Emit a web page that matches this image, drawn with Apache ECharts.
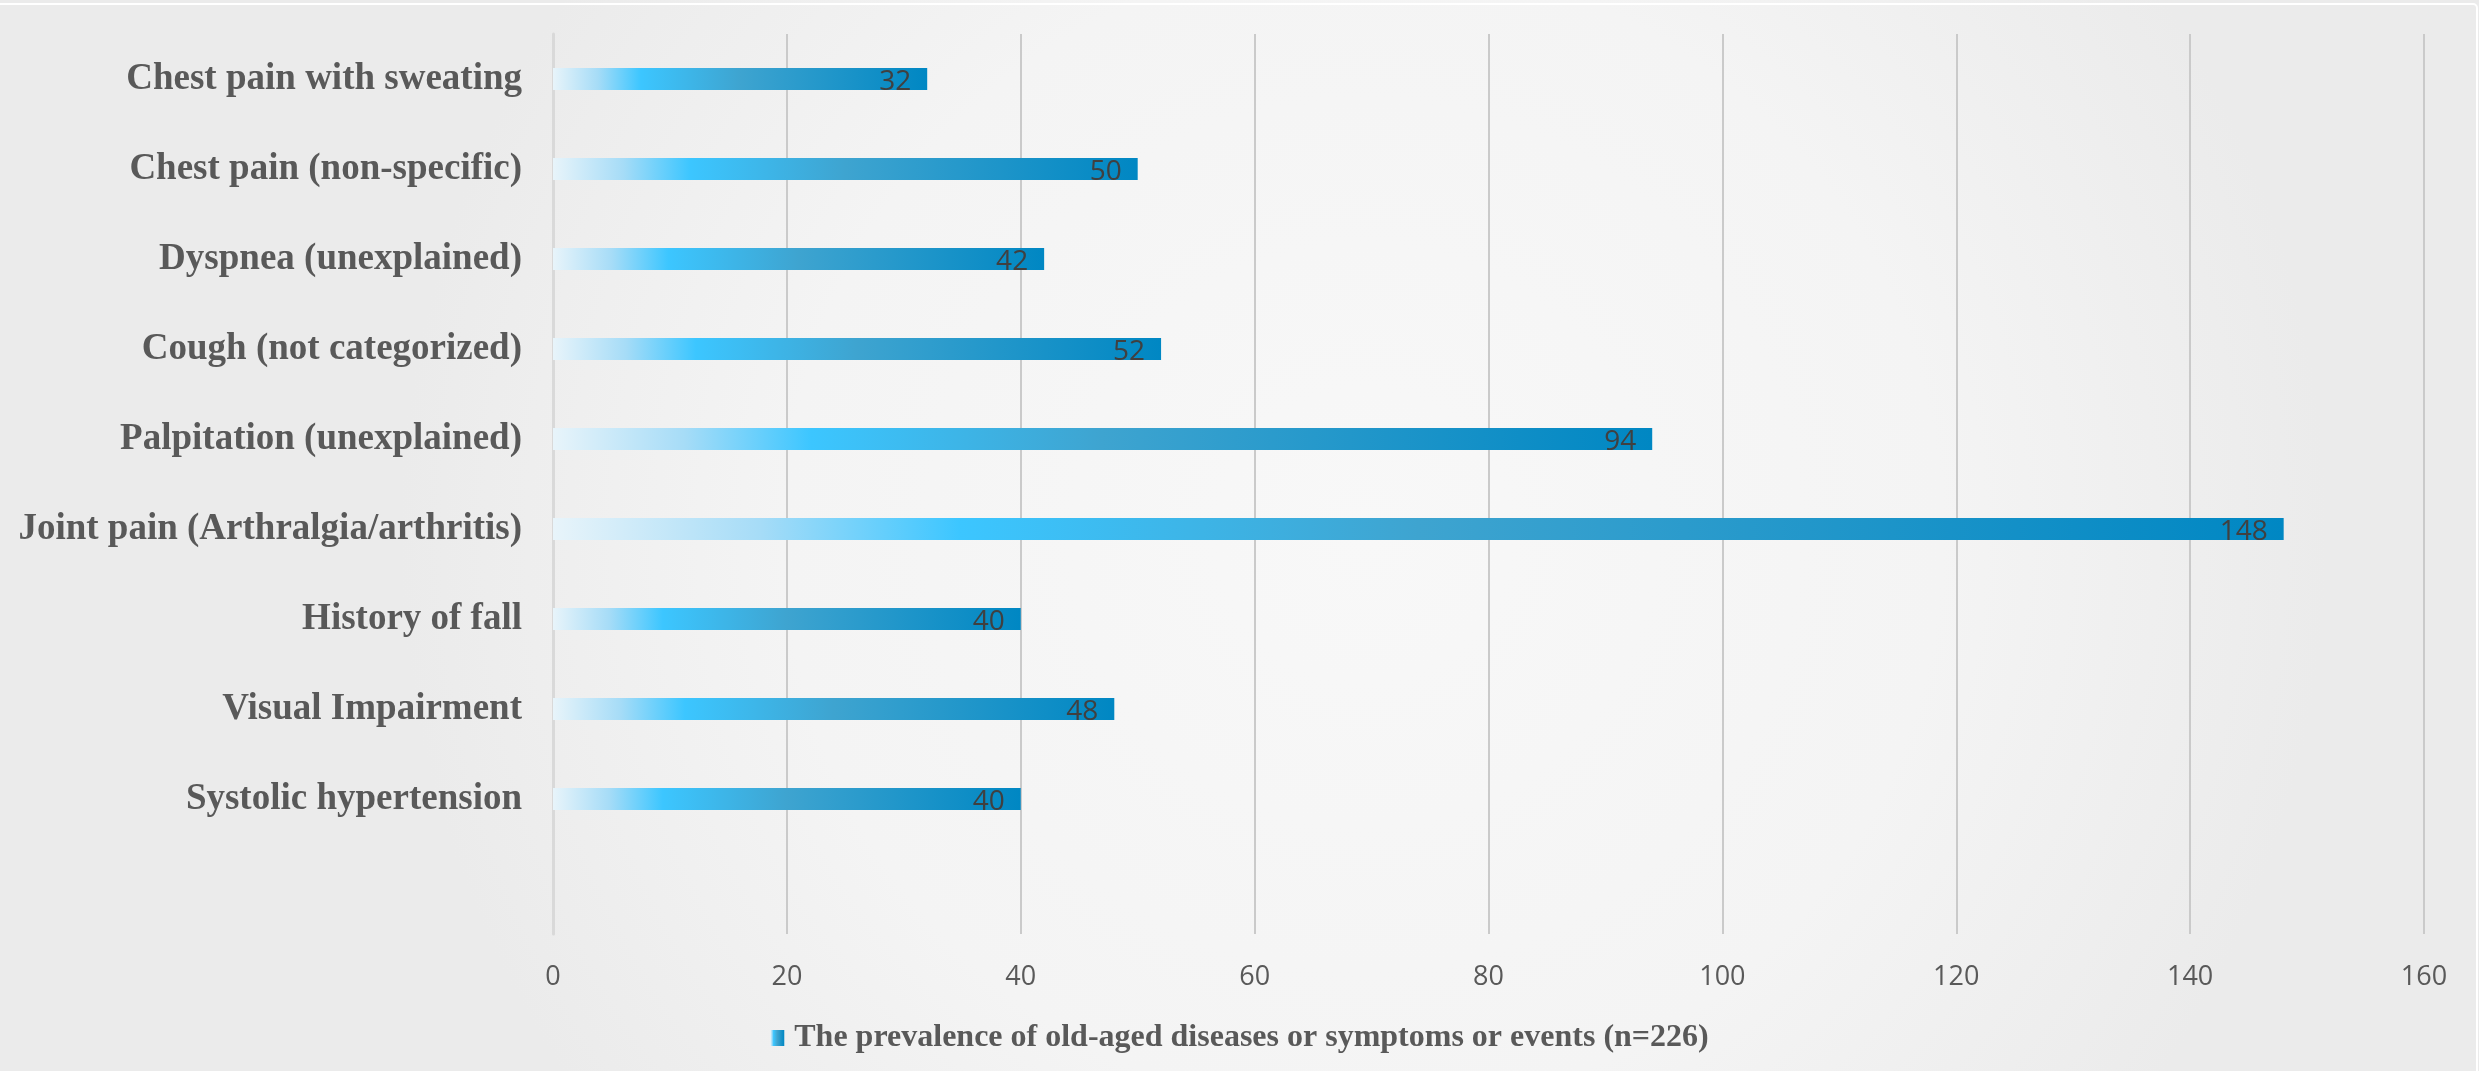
<!DOCTYPE html>
<html>
<head>
<meta charset="utf-8">
<script src="https://cdn.jsdelivr.net/npm/echarts@6/dist/echarts.min.js"></script>
<style>
html,body{margin:0;padding:0;width:2479px;height:1071px;overflow:hidden;background:#f2f2f2;}
#chart{width:2479px;height:1071px;}
</style>
</head>
<body>
<div id="chart"></div>
<script>
// Categories listed bottom-to-top (as drawn on the category axis)
const categories = [
  'Systolic hypertension',
  'Visual Impairment',
  'History of fall',
  'Joint pain (Arthralgia/arthritis)',
  'Palpitation (unexplained)',
  'Cough (not categorized)',
  'Dyspnea (unexplained)',
  'Chest pain (non-specific)',
  'Chest pain with sweating'
];
const values = [40, 48, 40, 148, 94, 52, 42, 50, 32];
const seriesName = 'The prevalence of old-aged diseases or symptoms or events (n=226)';
const xTicks = [0, 20, 40, 60, 80, 100, 120, 140, 160];

// Excel leaves an empty band beneath the last category
const axisCats = [''].concat(categories);
const axisVals = [null].concat(values);

const barGradient = new echarts.graphic.LinearGradient(0, 0, 1, 0, [
  {offset: 0, color: '#e8f4fa'},
  {offset: 0.12, color: '#a6dcf7'},
  {offset: 0.235, color: '#3cc6ff'},
  {offset: 0.5, color: '#3ea4d0'},
  {offset: 1, color: '#0087c3'}
]);

const chart = echarts.init(document.getElementById('chart'), null, {renderer: 'canvas'});
chart.setOption({
  backgroundColor: new echarts.graphic.RadialGradient(0.55, 0.5, 0.9, [
    {offset: 0, color: '#f8f8f8'},
    {offset: 0.6, color: '#f4f4f4'},
    {offset: 1, color: '#ebebeb'}
  ]),
  animation: false,
  graphic: [{
    type: 'rect',
    shape: {x: -10, y: 4, width: 2487, height: 1100, r: 4},
    style: {fill: 'none', stroke: '#ffffff', lineWidth: 2},
    silent: true
  }],
  grid: {left: 553, right: 55, top: 34, bottom: 137, containLabel: false},
  legend: {
    show: true,
    bottom: 12,
    left: 'center',
    itemWidth: 14,
    itemHeight: 16,
    icon: 'rect',
    textStyle: {
      fontFamily: 'Liberation Serif',
      fontWeight: 'bold',
      fontSize: 32,
      color: '#595959',
      padding: [0, 0, 0, 5]
    },
    data: [seriesName]
  },
  xAxis: {
    type: 'value',
    min: xTicks[0],
    max: xTicks[xTicks.length - 1],
    interval: xTicks[1] - xTicks[0],
    axisLine: {show: false},
    axisTick: {show: false},
    splitLine: {show: true, lineStyle: {color: '#cacaca', width: 2}},
    axisLabel: {
      margin: 30,
      fontFamily: 'Open Sans',
      fontSize: 27,
      color: '#595959'
    }
  },
  yAxis: {
    type: 'category',
    data: axisCats,
    axisLine: {show: true, lineStyle: {color: '#d9d9d9', width: 3}},
    axisTick: {show: false},
    splitLine: {show: false},
    axisLabel: {
      margin: 31,
      fontFamily: 'Liberation Serif',
      fontWeight: 'bold',
      fontSize: 37,
      color: '#595959',
      padding: [6, 0, 0, 0]
    }
  },
  series: [{
    name: seriesName,
    type: 'bar',
    data: axisVals,
    barWidth: 22,
    itemStyle: {color: barGradient},
    label: {
      show: true,
      position: 'insideRight',
      distance: 16,
      offset: [0, 3],
      fontFamily: 'Open Sans',
      fontSize: 28,
      color: '#404040'
    }
  }]
});
</script>
</body>
</html>
